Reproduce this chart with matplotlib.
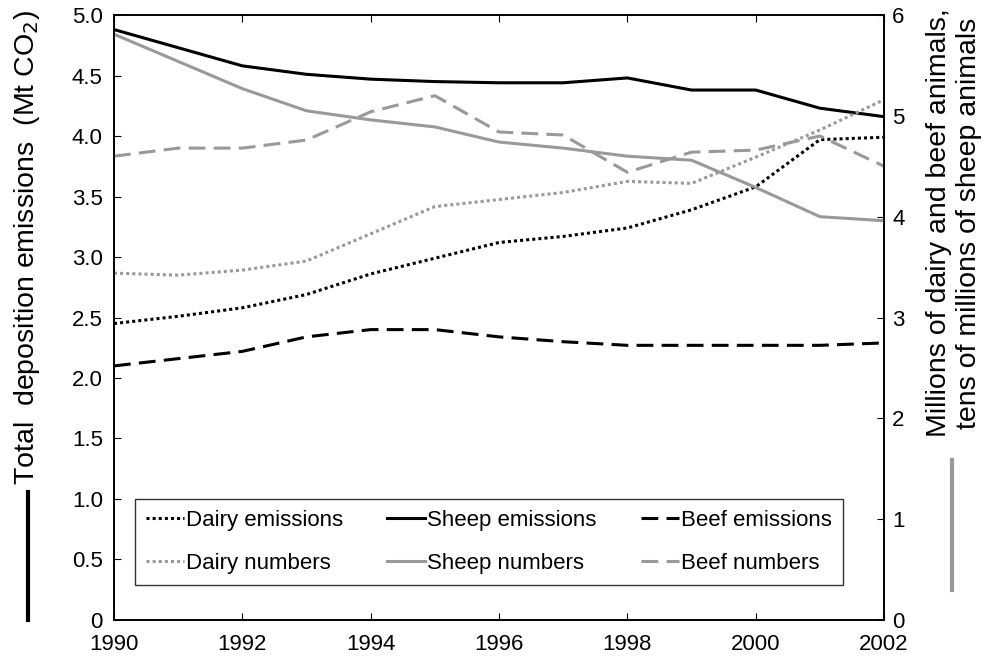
import matplotlib
matplotlib.use("Agg")
import matplotlib.pyplot as plt
from matplotlib.lines import Line2D

# Data
years = [1990, 1991, 1992, 1993, 1994, 1995, 1996, 1997, 1998, 1999, 2000, 2001, 2002]

# left axis: Mt CO2
dairy_emissions = [2.45, 2.51, 2.58, 2.69, 2.86, 2.99, 3.12, 3.17, 3.24, 3.39, 3.58, 3.97, 3.99]
sheep_emissions = [4.88, 4.73, 4.58, 4.51, 4.47, 4.45, 4.44, 4.44, 4.48, 4.38, 4.38, 4.23, 4.16]
beef_emissions = [2.10, 2.16, 2.22, 2.34, 2.40, 2.40, 2.34, 2.30, 2.27, 2.27, 2.27, 2.27, 2.29]

# right axis: millions of dairy/beef, tens of millions of sheep
dairy_numbers = [3.44, 3.42, 3.47, 3.56, 3.83, 4.10, 4.17, 4.24, 4.35, 4.33, 4.59, 4.86, 5.16]
sheep_numbers = [5.81, 5.54, 5.27, 5.05, 4.96, 4.89, 4.74, 4.68, 4.60, 4.56, 4.29, 4.00, 3.96]
beef_numbers = [4.60, 4.68, 4.68, 4.76, 5.04, 5.20, 4.84, 4.81, 4.44, 4.64, 4.66, 4.80, 4.50]

left_ticks = [0, 0.5, 1.0, 1.5, 2.0, 2.5, 3.0, 3.5, 4.0, 4.5, 5.0]
left_labels = ["0", "0.5", "1.0", "1.5", "2.0", "2.5", "3.0", "3.5", "4.0", "4.5", "5.0"]
right_ticks = [0, 1, 2, 3, 4, 5, 6]
x_ticks = [1990, 1992, 1994, 1996, 1998, 2000, 2002]

BLACK = "black"
GRAY = "#999999"
LW = 2.2
DOT = (0, (1, 1))
DASH = (0, (5.5, 2.7))

plt.rcParams["font.family"] = ["Liberation Sans", "DejaVu Sans"]

fig = plt.figure(figsize=(9.85, 6.56), dpi=100)
ax = fig.add_axes([0.1157, 0.0549, 0.7818, 0.9222])
ax2 = ax.twinx()

ax.plot(years, dairy_emissions, color=BLACK, lw=LW, linestyle=DOT, label="Dairy emissions")
ax.plot(years, sheep_emissions, color=BLACK, lw=LW, linestyle="-", label="Sheep emissions")
ax.plot(years, beef_emissions, color=BLACK, lw=LW, linestyle=DASH, label="Beef emissions")

ax2.plot(years, dairy_numbers, color=GRAY, lw=LW, linestyle=DOT, label="Dairy numbers")
ax2.plot(years, sheep_numbers, color=GRAY, lw=LW, linestyle="-", label="Sheep numbers")
ax2.plot(years, beef_numbers, color=GRAY, lw=LW, linestyle=DASH, label="Beef numbers")

ax.set_xlim(1990, 2002)
ax.set_ylim(0, 5.0)
ax2.set_ylim(0, 6)

ax.set_xticks(x_ticks)
ax.set_yticks(left_ticks)
ax.set_yticklabels(left_labels)
ax2.set_yticks(right_ticks)

ax.tick_params(axis="x", direction="in", top=True, labelsize=16, length=5, pad=10)
ax.tick_params(axis="y", direction="in", labelsize=16, length=5, pad=8)
ax2.tick_params(axis="y", direction="in", labelsize=16, length=5, pad=6)

for a in (ax, ax2):
    for s in a.spines.values():
        s.set_linewidth(1.2)

# axis titles as figure text, with the line-key bars underneath
fig.text(0.027, 0.622, "Total  deposition emissions  (Mt CO$_2$)", rotation=90,
         ha="center", va="center", fontsize=20.5)
fig.add_artist(Line2D([0.0284, 0.0284], [0.055, 0.25], color=BLACK, lw=3))

fig.text(0.969, 0.66, "Millions of dairy and beef animals,\ntens of millions of sheep animals",
         rotation=90, ha="center", va="center", fontsize=20.5, linespacing=1.2)
fig.add_artist(Line2D([0.9665, 0.9665], [0.10, 0.299], color=GRAY, lw=3))

# legend collects both axes, column-wise order for ncol=3
h1, l1 = ax.get_legend_handles_labels()
h2, l2 = ax2.get_legend_handles_labels()
handles = [h1[0], h2[0], h1[1], h2[1], h1[2], h2[2]]
labels = [l1[0], l2[0], l1[1], l2[1], l1[2], l2[2]]
leg = ax2.legend(handles, labels, ncol=3, loc="lower left",
                 bbox_to_anchor=(0.027, 0.058, 0.92, 0.142), mode="expand",
                 frameon=True, fancybox=False, edgecolor="black",
                 handlelength=1.7, handletextpad=0.1, columnspacing=1.0,
                 labelspacing=0.98, fontsize=16, borderpad=0.5, borderaxespad=0)
leg.get_frame().set_linewidth(1.0)

plt.savefig("out.png", dpi=100)
plt.close()
